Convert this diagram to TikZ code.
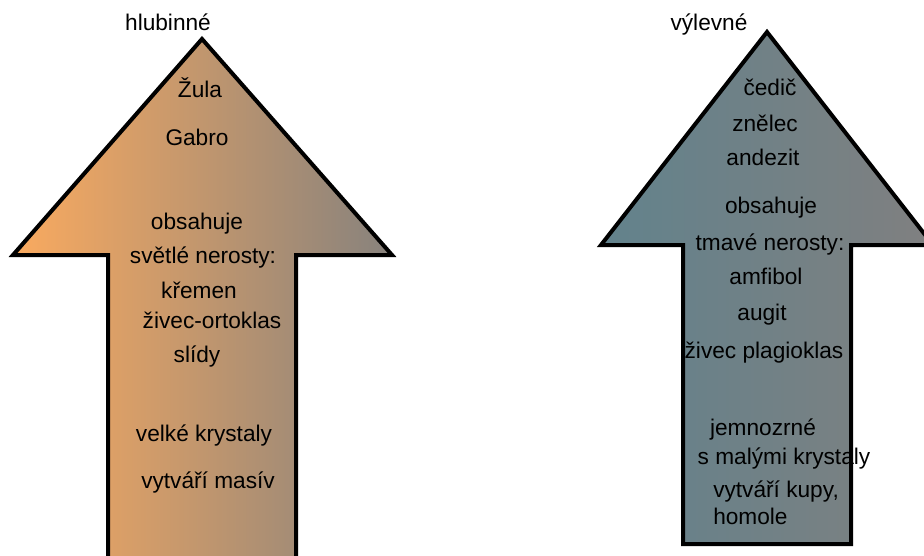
\documentclass[tikz,border=0pt]{standalone}
\usepackage{fontspec}
\setmainfont{Liberation Sans}
\usetikzlibrary{calc}
\usetikzlibrary{positioning}
\definecolor{hlubOrange}{RGB}{250,170,95}
\definecolor{hlubGray}{RGB}{135,130,125}
\definecolor{vylBlue}{RGB}{98,130,140}
\definecolor{vylGray}{RGB}{128,128,128}

\begin{document}
\begin{tikzpicture}[x=0.75pt, y=-0.75pt,
  txt/.style={anchor=base, inner sep=0pt, font=\fontsize{17}{20.25}\selectfont},
  shaft/.style={draw=black, line width=3pt, line join=miter}]
\useasboundingbox (0,0) rectangle (924,556);
\clip (0,0) rectangle (924,556);
% hlubinne
\draw[shaft, left color=hlubOrange, right color=hlubGray] (202,39) -- (392,255) -- (296,255) -- (296,580) -- (108,580) -- (108,255) -- (13,255) -- cycle;
\draw (168,31) node[txt, name = h0]{hlubinné};
\draw (200,98) node[txt, name = h1]{Žula};
\draw (197,146) node[txt, name = h2]{Gabro};
\draw (197,229) node[txt, name = h3]{obsahuje};
\draw (203,263) node[txt, name = h4]{světlé nerosty:};
\draw (199,298) node[txt, name = h5]{křemen};
\draw (212,328) node[txt, name = h6]{živec-ortoklas};
\draw (197,362) node[txt, name = h7]{slídy};
\draw (204,441) node[txt, name = h8]{velké krystaly};
\draw (208,488) node[txt, name = h9]{vytváří masív};
% vylevne
\draw[shaft, left color=vylBlue, right color=vylGray] (767,32) -- (933,245) -- (851,245) -- (851,544) -- (683,544) -- (683,245) -- (601,245) -- cycle;
\draw (709,31) node[txt, name = v0]{výlevné};
\draw (770,96) node[txt, name = v1]{čedič};
\draw (765,132) node[txt, name = v2]{znělec};
\draw (763,166) node[txt, name = v3]{andezit};
\draw (771,214) node[txt, name = v4]{obsahuje};
\draw (770,250) node[txt, name = v5]{tmavé nerosty:};
\draw (766,284) node[txt, name = v6]{amfibol};
\draw (762,320) node[txt, name = v7]{augit};
\draw (764,358) node[txt, name = v8]{živec plagioklas};
\draw (763,435) node[txt, name = v9]{jemnozrné};
\draw (784,464) node[txt, name = v10]{s malými krystaly};
\draw (713,524) node[txt, anchor=base west, align=left, name = v11]{vytváří kupy,\\homole};
\end{tikzpicture}
\end{document}
